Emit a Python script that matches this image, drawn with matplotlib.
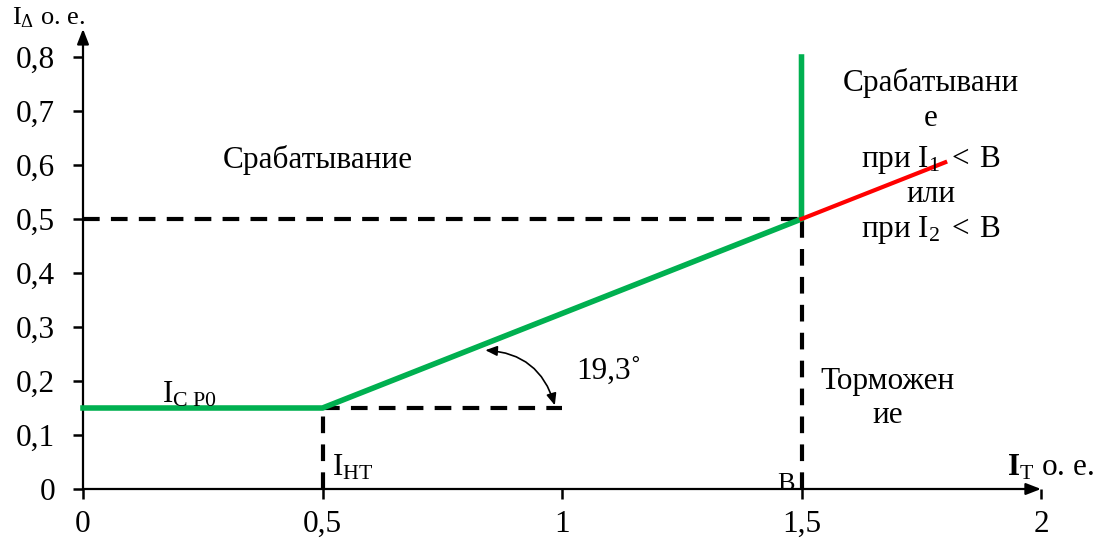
import matplotlib
matplotlib.use("Agg")
import matplotlib.pyplot as plt
import numpy as np

plt.rcParams['font.family'] = ['Liberation Serif', 'DejaVu Serif']
plt.rcParams['mathtext.fontset'] = 'custom'
plt.rcParams['mathtext.rm'] = 'Liberation Serif'
plt.rcParams['mathtext.it'] = 'Liberation Serif:italic'
plt.rcParams['mathtext.bf'] = 'Liberation Serif:bold'

# Characteristic parameters
i_start = 0.15      # I_СР0
i_nt = 0.5          # I_НТ
b_point = 1.5       # B
slope = 0.35        # tan(19.3°)
y_top = 0.8
red_end = 1.8

x_ticks = [0, 0.5, 1, 1.5, 2]
x_tick_labels = ['0', '0,5', '1', '1,5', '2']
y_ticks = [0, 0.1, 0.2, 0.3, 0.4, 0.5, 0.6, 0.7, 0.8]
y_tick_labels = ['0', '0,1', '0,2', '0,3', '0,4', '0,5', '0,6', '0,7', '0,8']

green = '#00B050'
red = '#FF0000'
fs = 22.5

fig = plt.figure(figsize=(10.98, 5.39), dpi=100)
ax = fig.add_axes([83 / 1098, 50 / 539, (1041 - 83) / 1098, 432 / 539])
ax.set_xlim(0, 2)
ax.set_ylim(0, y_top)
for s in ax.spines.values():
    s.set_visible(False)

ax.set_xticks(x_ticks)
ax.set_xticklabels(x_tick_labels, fontsize=fs)
ax.set_yticks(y_ticks)
ax.set_yticklabels(y_tick_labels, fontsize=fs)
ax.tick_params(axis='x', direction='out', length=7, width=1.8, pad=8)
ax.tick_params(axis='y', direction='out', length=7, width=1.8, pad=13)

# Axes with arrows
ax.annotate('', xy=(2.0, 0), xytext=(0, 0), annotation_clip=False,
            arrowprops=dict(arrowstyle='-|>,head_length=0.9,head_width=0.35',
                            color='black', lw=1.6, shrinkA=0, shrinkB=0))
ax.annotate('', xy=(0, 0.852), xytext=(0, 0), annotation_clip=False,
            arrowprops=dict(arrowstyle='-|>,head_length=0.9,head_width=0.35',
                            color='black', lw=1.6, shrinkA=0, shrinkB=0))

# Dashed construction lines
dash = dict(color='black', lw=3, linestyle=(0, (4, 2.7)), solid_capstyle='butt')
y_b = i_start + slope * (b_point - i_nt)
ax.plot([0, b_point], [y_b, y_b], **dash)
ax.plot([b_point, b_point], [0, y_b], **dash)
ax.plot([i_nt, i_nt], [0, i_start], **dash)
ax.plot([i_nt, 1.0], [i_start, i_start], **dash)

# Characteristic
gx = [0, i_nt, b_point, b_point]
gy = [i_start, i_start, y_b, y_top]
ax.plot(gx, gy, color=green, lw=4, solid_joinstyle='miter', clip_on=False, zorder=3)
ax.plot([b_point, red_end], [y_b, y_b + slope * (red_end - b_point)],
        color=red, lw=3, zorder=3)

# Angle arrow
ax.annotate('', xy=(0.84, 0.257), xytext=(0.985, 0.155),
            arrowprops=dict(arrowstyle='<|-|>,head_length=0.7,head_width=0.3',
                            color='black', lw=1.2, shrinkA=0, shrinkB=0,
                            connectionstyle='arc3,rad=0.35'))
ax.text(1.03, 0.217, '19,3˚', fontsize=fs, ha='left', va='center')

# Region labels
ax.text(0.49, 0.61, 'Срабатывание', fontsize=fs, ha='center', va='center')
rx = 1.77
ax.text(rx, 0.752, 'Срабатывани', fontsize=fs, ha='center', va='center')
ax.text(rx, 0.687, 'е', fontsize=fs, ha='center', va='center')
ax.text(rx, 0.61, r'при $\mathrm{I_1}\;<\;\mathrm{B}$', fontsize=fs, ha='center', va='center')
ax.text(rx, 0.545, 'или', fontsize=fs, ha='center', va='center')
ax.text(rx, 0.48, r'при $\mathrm{I_2}\;<\;\mathrm{B}$', fontsize=fs, ha='center', va='center')
ax.text(1.68, 0.2, 'Торможен', fontsize=fs, ha='center', va='center')
ax.text(1.68, 0.137, 'ие', fontsize=fs, ha='center', va='center')

# Point labels
ax.text(0.165, 0.175, r'$\mathrm{I_{C\ P0}}$', fontsize=fs, ha='left', va='center')
ax.text(0.52, 0.04, r'$\mathrm{I_{HT}}$', fontsize=fs, ha='left', va='center')
ax.text(1.485, 0.01, 'B', fontsize=19, ha='right', va='center')
ax.text(1.93, 0.04, r'$\mathbf{I}_\mathrm{T}$ о. е.', fontsize=fs, ha='left', va='center',
        clip_on=False)
ax.text(-0.148, 0.872, r'$\mathrm{I_\Delta}$ о. е.', fontsize=19, ha='left', va='center',
        clip_on=False)

fig.savefig('out.png', dpi=100)
